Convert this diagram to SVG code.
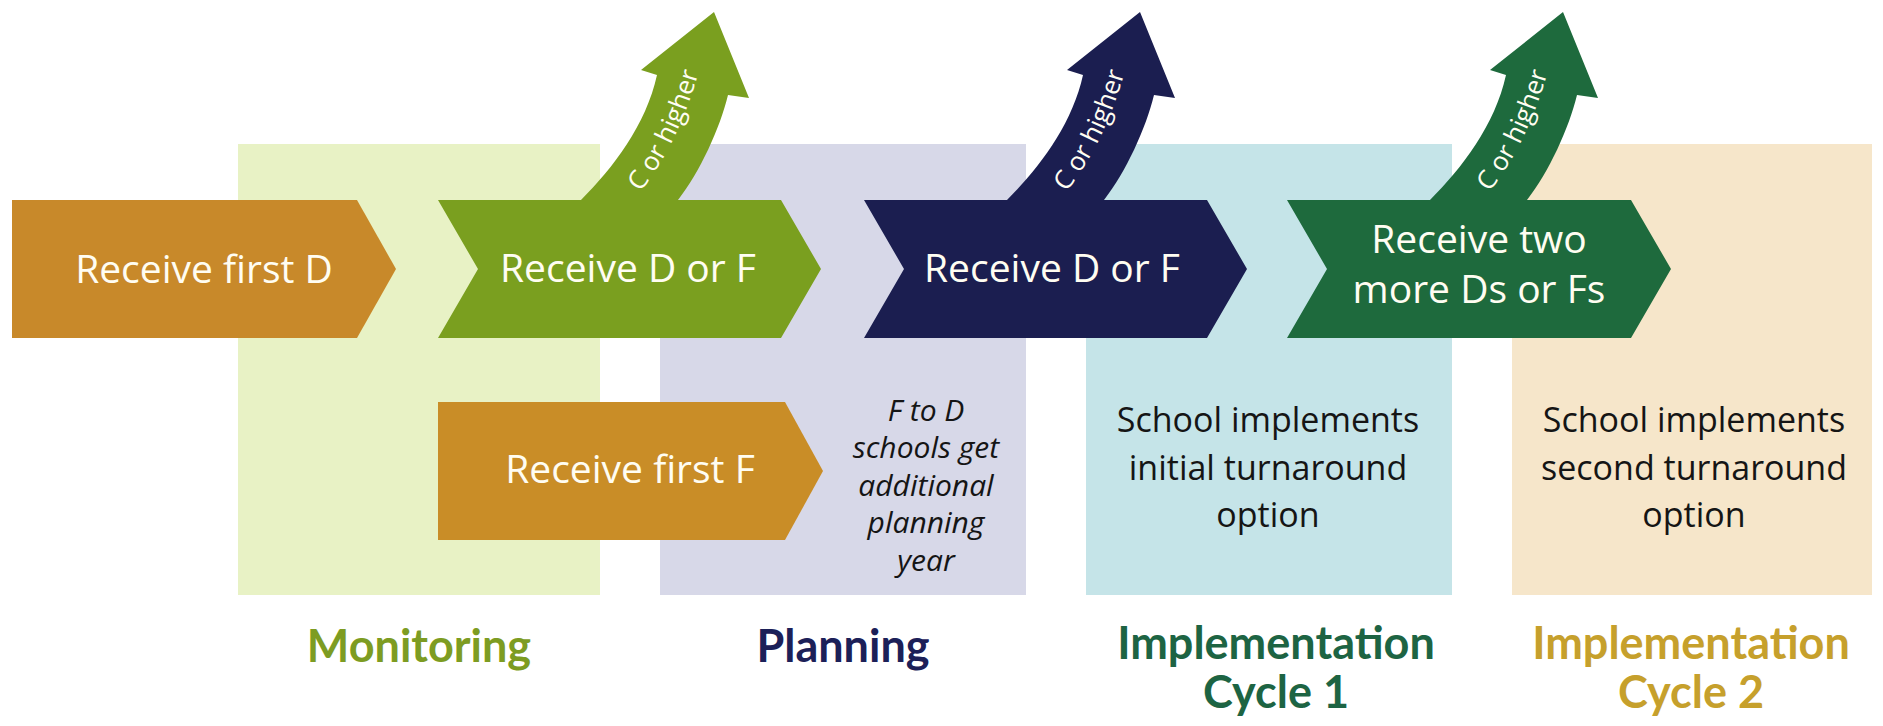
<svg xmlns="http://www.w3.org/2000/svg" width="1883" height="726" viewBox="0 0 1883 726">
<defs>
<style>
.wt{font-family:"Open Sans","Noto Sans",sans-serif;font-size:39px;fill:#fffdf2;text-anchor:middle}
.bt{font-family:"Open Sans","Noto Sans",sans-serif;font-size:34px;fill:#151515;text-anchor:middle}
.it{font-family:"Open Sans","Noto Sans",sans-serif;font-size:30px;font-style:italic;fill:#151515;text-anchor:middle}
.lb{font-family:Lato,"Open Sans",sans-serif;font-size:45px;font-weight:bold;text-anchor:middle}
.ct{font-family:"Open Sans","Noto Sans",sans-serif;font-size:26px;fill:#fffdf2;text-anchor:middle}
</style>
<path id="up" d="M143,215 L143,200 C175,168 208,125 219,75 L203,70 L276,12 L311,98 L290,95 C282,128 262,172 240,200 L240,215 Z"/>
<path id="cpath" d="M194,202 C221,171 246,128 264,60"/>
</defs>
<rect width="1883" height="726" fill="#ffffff"/>
<g id="panels">
<rect id="panel-monitoring" x="238" y="144" width="362" height="451" fill="#e8f2c5"/>
<rect id="panel-planning" x="660" y="144" width="366" height="451" fill="#d7d8e8"/>
<rect id="panel-impl1" x="1086" y="144" width="366" height="451" fill="#c5e4e8"/>
<rect id="panel-impl2" x="1512" y="144" width="360" height="451" fill="#f6e6ca"/>
</g>
<g id="n-first-d"><polygon points="12,200 357,200 396,269 357,338 12,338" fill="#c8892a"/><text class="wt" x="204" y="283">Receive first D</text></g>
<g id="n-green"><polygon points="438,200 781,200 821,269 781,338 438,338 478,269" fill="#7a9f1f"/><text class="wt" x="628" y="282">Receive D or F</text></g>
<g id="n-navy"><polygon points="864,200 1207,200 1247,269 1207,338 864,338 904,269" fill="#1b1e50"/><text class="wt" x="1052" y="282">Receive D or F</text></g>
<g id="n-dkgreen"><polygon points="1287,200 1631,200 1671,269 1631,338 1287,338 1327,269" fill="#1e6a3d"/><text class="wt" x="1479" y="253">Receive two</text><text class="wt" x="1479" y="303">more Ds or Fs</text></g>
<g id="n-first-f"><polygon points="438,402 785,402 823,471 785,540 438,540" fill="#c98d27"/><text class="wt" x="630" y="483">Receive first F</text></g>
<g id="connectors">
<g id="up-green" transform="translate(438,0)"><use href="#up" fill="#7a9f1f"/><text class="ct"><textPath href="#cpath" startOffset="50%">C or higher</textPath></text></g>
<g id="up-navy" transform="translate(864,0)"><use href="#up" fill="#1b1e50"/><text class="ct"><textPath href="#cpath" startOffset="50%">C or higher</textPath></text></g>
<g id="up-dkgreen" transform="translate(1287,0)"><use href="#up" fill="#1e6a3d"/><text class="ct"><textPath href="#cpath" startOffset="50%">C or higher</textPath></text></g>
</g>
<g id="note-planning"><text class="it"><tspan x="926" y="421">F to D</tspan><tspan x="926" y="458">schools get</tspan><tspan x="926" y="496">additional</tspan><tspan x="926" y="533">planning</tspan><tspan x="926" y="571">year</tspan></text></g>
<g id="note-impl1"><text class="bt"><tspan x="1268" y="432">School implements</tspan><tspan x="1268" y="480">initial turnaround</tspan><tspan x="1268" y="527">option</tspan></text></g>
<g id="note-impl2"><text class="bt"><tspan x="1694" y="432">School implements</tspan><tspan x="1694" y="480">second turnaround</tspan><tspan x="1694" y="527">option</tspan></text></g>
<g id="labels">
<text id="lbl-monitoring" class="lb" x="419" y="662" fill="#7d9c22">Monitoring</text>
<text id="lbl-planning" class="lb" x="843" y="662" fill="#1c2058">Planning</text>
<text id="lbl-impl1" class="lb" fill="#1d6443"><tspan x="1276" y="659">Implementation</tspan><tspan x="1276" y="708">Cycle 1</tspan></text>
<text id="lbl-impl2" class="lb" fill="#c6a02c"><tspan x="1691" y="659">Implementation</tspan><tspan x="1691" y="708">Cycle 2</tspan></text>
</g>
</svg>
